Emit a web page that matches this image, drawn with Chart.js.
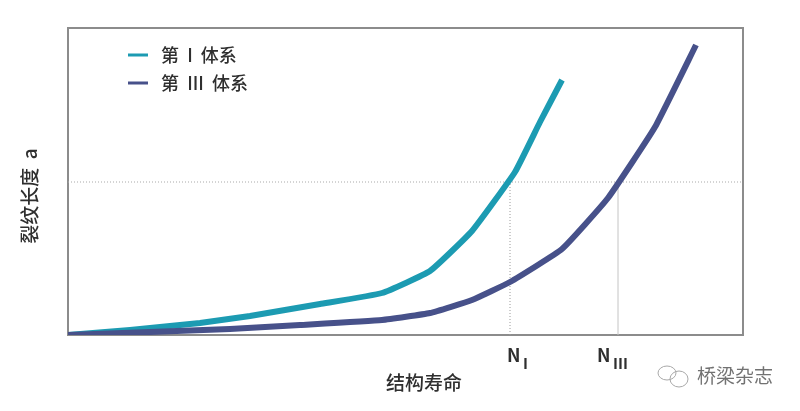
<!DOCTYPE html>
<html>
<head>
<meta charset="utf-8">
<script src="https://cdn.jsdelivr.net/npm/chart.js@4"></script>
<style>
  html, body { margin: 0; padding: 0; background: #fff; }
  canvas { display: block; }
</style>
</head>
<body>
<canvas id="grieta" width="800" height="411"></canvas>
<script>
// values, arbitrary units (the axes have no numbers)
const vidaI = [0, 62, 132, 182, 252, 314, 362, 404, 447, 472, 494];
const grietaI = [0, 5, 12, 19, 31, 42, 64, 104, 163, 213, 255];
const vidaIII = [0, 82, 162, 232, 314, 362, 404, 442, 494, 540, 587, 628];
const grietaIII = [0, 3, 6, 10, 15, 22, 35, 53, 86, 137, 208, 290];

const nombres = [" 第  I  体系", " 第  III  体系"];
const colores = ["#1c9bb2", "#47518a"];

const critica = 153;
const vidaN = [442, 550];
const subN = ["I", "III"];
const ejeMax = { x: 675, y: 307 };

const fuente = "'Noto Sans CJK SC', 'Noto Sans', sans-serif";
const colorTexto = "#2f2f2f";

function guia(xs, ys, color, dash) {
    return {
        data: xs.map((x, i) => ({ x: x, y: ys[i] })),
        borderColor: color,
        borderWidth: 1,
        borderDash: dash,
        pointRadius: 0,
        order: 5
    };
}

function curva(nombre, xs, ys, color, orden) {
    return {
        label: nombre,
        data: xs.map((x, i) => ({ x: x, y: ys[i] })),
        borderColor: color,
        backgroundColor: color,
        borderWidth: 6,
        tension: 0.12,
        pointRadius: 0,
        order: orden
    };
}

// frame and the texts the scales can't place (subscripts, titles off centre, watermark)
const extras = {
    id: "extras",
    afterLayout(chart) {
        chart.legend.left = 118;
        chart.legend.top = 36;
    },
    beforeDatasetsDraw(chart) {
        const a = chart.chartArea, c = chart.ctx;
        c.save();
        c.strokeStyle = "#8c8c8c";
        c.lineWidth = 2;
        c.strokeRect(a.left, a.top, a.right - a.left, a.bottom - a.top);
        c.restore();
    },
    afterDraw(chart) {
        const c = chart.ctx, xs = chart.scales.x;
        c.save();
        c.fillStyle = colorTexto;
        c.textBaseline = "middle";

        const offN = [-3, -21];
        const offSub = [13, -5];
        vidaN.forEach((v, i) => {
            const px = xs.getPixelForValue(v);
            c.textAlign = "left";
            c.font = "600 18px " + fuente;
            c.fillText("N", px + offN[i], 355);
            c.font = "700 15px " + fuente;
            c.fillText(subN[i], px + offSub[i], 363);
        });

        c.textAlign = "center";
        c.font = "500 19px " + fuente;
        c.fillText("结构寿命", 424, 383);

        c.save();
        c.translate(30, 196);
        c.rotate(-Math.PI / 2);
        c.fillText("裂纹长度  a", 0, 0);
        c.restore();

        // wechat mark
        c.strokeStyle = "#a8a8a8";
        c.lineWidth = 1;
        c.beginPath();
        c.ellipse(667, 373, 9, 7, 0, 0, Math.PI * 2);
        c.stroke();
        c.beginPath();
        c.ellipse(679, 379, 9, 8, 0, 0, Math.PI * 2);
        c.stroke();
        c.fillStyle = "#727272";
        c.textAlign = "left";
        c.font = "400 19px " + fuente;
        c.fillText("桥梁杂志", 697, 376);
        c.restore();
    }
};

new Chart(document.querySelector("#grieta").getContext("2d"), {
    type: "line",
    data: {
        datasets: [
            guia([0, ejeMax.x], [critica, critica], "#a9a9a9", [1, 2]),
            guia([vidaN[0], vidaN[0]], [0, critica], "#9a9a9a", [1, 2]),
            guia([vidaN[1], vidaN[1]], [0, critica], "#c4c4c4", []),
            curva(nombres[0], vidaI, grietaI, colores[0], 2),
            curva(nombres[1], vidaIII, grietaIII, colores[1], 1)
        ]
    },
    options: {
        responsive: false,
        animation: false,
        layout: { padding: { top: 28, right: 57, left: 0, bottom: 0 } },
        scales: {
            x: {
                type: "linear",
                min: 0,
                max: ejeMax.x,
                grid: { display: false },
                border: { display: false },
                ticks: { display: false },
                afterFit(s) { s.height = 76; }
            },
            y: {
                min: 0,
                max: ejeMax.y,
                grid: { display: false },
                border: { display: false },
                ticks: { display: false },
                afterFit(s) { s.width = 68; }
            }
        },
        plugins: {
            tooltip: { enabled: false },
            legend: {
                position: "chartArea",
                align: "start",
                labels: {
                    boxWidth: 20,
                    boxHeight: 3,
                    padding: 10,
                    color: colorTexto,
                    font: { family: fuente, size: 18, weight: "500" },
                    generateLabels(chart) {
                        const base = Chart.defaults.plugins.legend.labels.generateLabels(chart);
                        return base
                            .filter(item => !!item.text)
                            .sort((a, b) => a.datasetIndex - b.datasetIndex)
                            .map(item => Object.assign(item, { lineWidth: 0 }));
                    }
                }
            }
        }
    },
    plugins: [extras]
});
</script>
</body>
</html>
